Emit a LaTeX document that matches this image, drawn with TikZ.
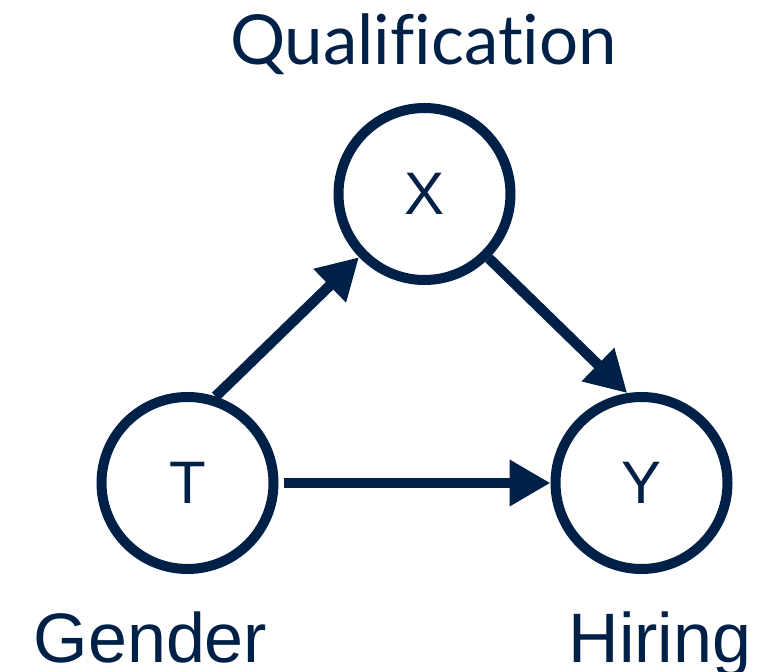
\documentclass[tikz,border=0pt]{standalone}
\usepackage{fontspec}
\setmainfont{Liberation Sans}
\newfontfamily\latofont[Ligatures=NoCommon]{Lato}
\usetikzlibrary{arrows.meta}
\definecolor{navy}{HTML}{002147}
\begin{document}
\begin{tikzpicture}[x=1pt,y=1pt,
  var/.style={circle,draw=navy,line width=10pt,minimum size=172pt,inner sep=0pt,outer sep=5pt,text=navy,font=\fontsize{60}{60}\selectfont},
  lab/.style={anchor=base,text=navy,inner sep=0pt,font=\fontsize{70}{70}\selectfont},
  arr/.style={draw=navy,line width=10.5pt,-{Triangle[length=41pt,width=44pt]}}]
\useasboundingbox (0,0) rectangle (772,672);
\node[var] (X) at (424.5,478) {X};
\node[var] (T) at (187.5,189) {T};
\node[var] (Y) at (641.5,189) {Y};
\node[lab,font=\latofont\fontsize{69}{69}\selectfont] (lq) at (423.5,607) {Qualificat\kern0pt ion};
\node[lab] (lg) at (150.5,9) {Gender};
\node[lab] (lh) at (660,9) {Hiring};
\draw[arr] (T.72) -- (X.224);
\draw[arr] (X.-45) -- (Y.99);
\draw[arr,shorten <=5pt] (T.east) -- (Y.west);
\end{tikzpicture}
\end{document}
